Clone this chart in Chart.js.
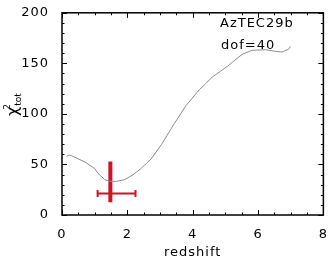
<!DOCTYPE html>
<html>
<head>
<meta charset="utf-8">
<script src="https://cdn.jsdelivr.net/npm/chart.js@4"></script>
<style>
html,body{margin:0;padding:0;background:#fff;}
#wrap{width:332px;height:260px;}
</style>
</head>
<body>
<div id="wrap"><canvas id="c" width="332" height="260"></canvas></div>
<script>
// ---- data ----
const redshift = [0.14, 0.24, 0.40, 0.70, 1.00, 1.10, 1.31, 1.46, 1.66, 1.92, 2.17, 2.42, 2.73, 3.05, 3.44, 3.79, 4.20, 4.40, 4.60, 4.81, 5.06, 5.21, 5.51, 5.82, 6.23, 6.53, 6.73, 6.94, 6.99];
const chi2 = [58.1, 59.3, 57.0, 52.4, 46.0, 41.2, 35.0, 33.3, 33.3, 35.0, 39.7, 46.0, 55.5, 70.0, 90.5, 108.0, 123.8, 130.0, 136.5, 141.2, 147.0, 151.0, 158.8, 162.9, 163.5, 161.9, 161.2, 164.1, 166.7];
const zBest = 1.48;
const zErr = [1.09, 2.25];
const chiBar = [12.7, 53.0];
const chiErrLevel = 21.2;
const xTicks = [0, 2, 4, 6, 8];
const yTicks = [0, 50, 100, 150, 200];
const labels = ["AzTEC29b", "dof=40"];

const RED = 'rgb(208,18,38)';
const FONT = '"DejaVu Sans", sans-serif';

const boxPlugin = {
  id: 'box',
  beforeLayout(chart){ chart.ctx.letterSpacing = '1px'; },
  beforeDraw(chart){ chart.ctx.letterSpacing = '1px'; },
  afterDraw(chart){
    const ctx = chart.ctx, a = chart.chartArea;
    const xs = chart.scales.x, ys = chart.scales.y;
    ctx.save();
    ctx.strokeStyle = '#000';
    ctx.lineWidth = 1.5;
    ctx.strokeRect(a.left, a.top, a.right - a.left, a.bottom - a.top);
    ctx.lineWidth = 1;
    ctx.beginPath();
    for (let v = 0; v <= 8.001; v += 0.5) {
      const px = Math.round(xs.getPixelForValue(v)) + 0.5;
      const L = (Math.abs(v - Math.round(v / 2) * 2) < 1e-6) ? 5 : 2.5;
      ctx.moveTo(px, a.bottom); ctx.lineTo(px, a.bottom - L);
      ctx.moveTo(px, a.top); ctx.lineTo(px, a.top + L);
    }
    for (let v = 0; v <= 200.001; v += 10) {
      const py = Math.round(ys.getPixelForValue(v)) + 0.5;
      const L = (v % 50 === 0) ? 5 : 2.5;
      ctx.moveTo(a.left, py); ctx.lineTo(a.left + L, py);
      ctx.moveTo(a.right, py); ctx.lineTo(a.right - L, py);
    }
    ctx.stroke();
    // annotations
    ctx.fillStyle = '#000';
    ctx.letterSpacing = '1px';
    ctx.font = '13px ' + FONT;
    ctx.textBaseline = 'alphabetic';
    ctx.textAlign = 'left';
    ctx.fillText(labels[0], 220, 27);
    ctx.fillText(labels[1], 221, 49);
    // y title: chi^2_tot
    ctx.letterSpacing = '0px';
    ctx.translate(18, 116);
    ctx.rotate(-Math.PI / 2);
    ctx.font = '16px ' + FONT;
    ctx.fillText('\u03c7', 0, 0);
    const w = ctx.measureText('\u03c7').width;
    ctx.font = '9px ' + FONT;
    ctx.fillText('2', w - 3, -8);
    ctx.fillText('tot', w + 1, 3);
    ctx.restore();
  }
};

new Chart(document.getElementById('c'), {
  type: 'scatter',
  data: {
    datasets: [
      {
        data: redshift.map((z, i) => ({x: z, y: chi2[i]})),
        showLine: true, borderColor: '#8c8c8c', borderWidth: 1,
        pointRadius: 0, tension: 0
      },
      {
        data: chiBar.map(v => ({x: zBest, y: v})),
        showLine: true, borderColor: RED, borderWidth: 4,
        pointRadius: 0, borderCapStyle: 'butt'
      },
      {
        data: zErr.map(v => ({x: v, y: chiErrLevel})),
        showLine: true, borderColor: RED, borderWidth: 2,
        pointStyle: 'line', rotation: 90, pointRadius: 3.5,
        pointBorderWidth: 2, pointBorderColor: RED, pointBackgroundColor: RED
      }
    ]
  },
  options: {
    responsive: false,
    animation: false,
    events: [],
    layout: { padding: { top: 5, right: 7, left: 0, bottom: 0 } },
    plugins: { legend: { display: false }, tooltip: { enabled: false } },
    scales: {
      x: {
        type: 'linear', min: 0, max: 8,
        grid: { display: false }, border: { display: false },
        afterBuildTicks(s){ s.ticks = xTicks.map(v => ({value: v})); },
        ticks: { color: '#000', font: { family: FONT, size: 13 }, padding: 4, maxRotation: 0 },
        title: { display: true, text: 'redshift', color: '#000', font: { family: FONT, size: 13 }, padding: { top: 2, bottom: 0 } },
        afterFit(s){ s.height = 45; }
      },
      y: {
        type: 'linear', min: 0, max: 200,
        grid: { display: false }, border: { display: false },
        afterBuildTicks(s){ s.ticks = yTicks.map(v => ({value: v})); },
        ticks: { color: '#000', font: { family: FONT, size: 13 }, padding: 5 },
        afterFit(s){ s.width = 62; }
      }
    }
  },
  plugins: [boxPlugin]
});
</script>
</body>
</html>
